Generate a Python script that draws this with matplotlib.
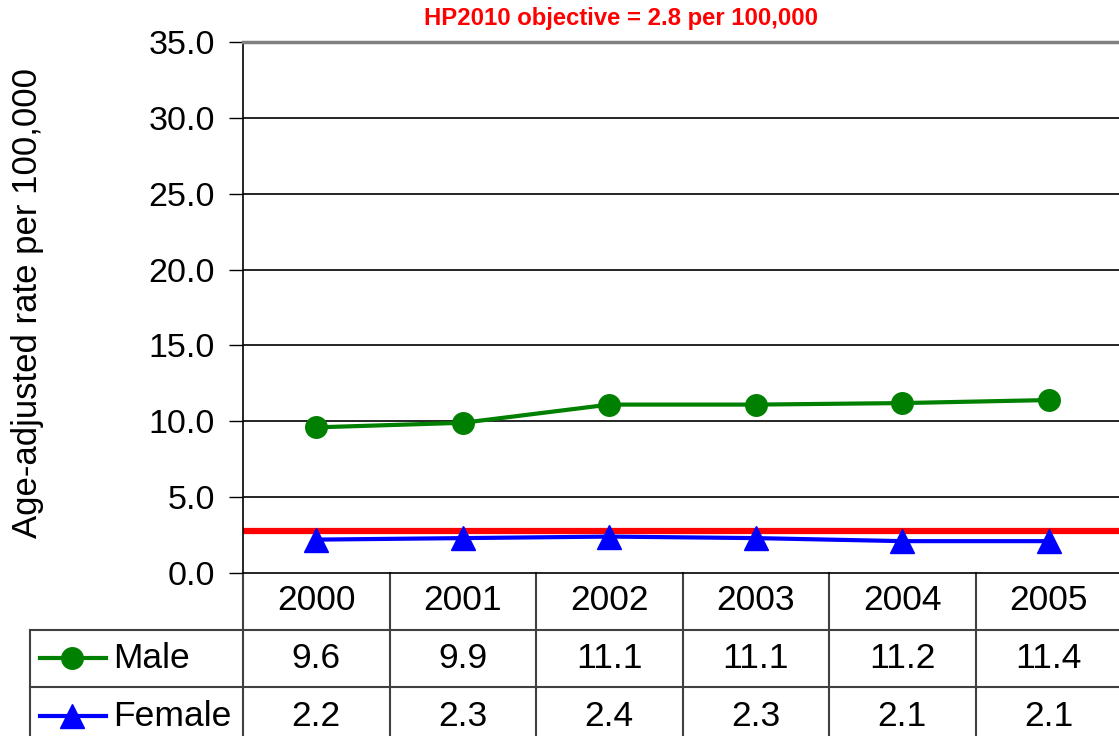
import matplotlib
matplotlib.use("Agg")
import matplotlib.pyplot as plt
from matplotlib.lines import Line2D
from matplotlib.transforms import blended_transform_factory

years = ["2000", "2001", "2002", "2003", "2004", "2005"]
male = [9.6, 9.9, 11.1, 11.1, 11.2, 11.4]
female = [2.2, 2.3, 2.4, 2.3, 2.1, 2.1]
objective = 2.8
title_text = "HP2010 objective = 2.8 per 100,000"
ylabel_text = "Age-adjusted rate per 100,000"
yticks = [0, 5, 10, 15, 20, 25, 30, 35]

plt.rcParams['font.family'] = ['Liberation Sans', 'DejaVu Sans']

W, H = 1119, 736
fig = plt.figure(figsize=(W / 100, H / 100), dpi=100)
ax_left, ax_bottom, ax_top = 243, 573, 42
cat_w = 146.5
ax_right = ax_left + cat_w * len(years)
ax = fig.add_axes([ax_left / W, (H - ax_bottom) / H, (ax_right - ax_left) / W, (ax_bottom - ax_top) / H])

x = list(range(len(years)))
ax.set_xlim(-0.5, len(years) - 0.5)
ax.set_ylim(0, 35)
ax.set_yticks(yticks)
ax.set_yticklabels([f"{v:.1f}" for v in yticks], fontsize=24.5)
ax.tick_params(axis='y', length=10, width=1, pad=10, color='black')
ax.set_xticks([])
for y in yticks[1:-1]:
    ax.axhline(y, color='black', lw=1.2, zorder=1)
ax.spines['top'].set_color('#808080')
ax.spines['top'].set_linewidth(2.5)
ax.spines['right'].set_visible(False)
ax.spines['left'].set_linewidth(1.2)
ax.spines['bottom'].set_linewidth(1.2)

ax.axhline(objective, color='#ff0000', lw=4.5, zorder=2)
ax.plot(x, male, color='#008000', lw=3, marker='o', markersize=15.5, zorder=3, clip_on=False)
ax.plot(x, female, color='#0000ff', lw=3, marker='^', markersize=17, zorder=3, clip_on=False)

ax.set_ylabel(ylabel_text, fontsize=25)
ax.yaxis.set_label_coords(-(ax_left - 44) / (ax_right - ax_left), 0.5 + 5 / (ax_bottom - ax_top))

fig.text(621 / W, 1 - 19 / H, title_text, color='#ff0000', fontsize=17.2,
         fontweight='bold', ha='center', va='center')

# table
tr = blended_transform_factory(ax.transData, ax.transAxes)
def ay(px):
    return (ax_bottom - px) / (ax_bottom - ax_top)

row_lines = [630, 687]
left_col_x = -0.5 - (ax_left - 30) / cat_w
line_kw = dict(color='#404040', lw=1.5, clip_on=False, transform=tr)
for ry in row_lines:
    ax.add_line(Line2D([left_col_x, len(years) - 0.5], [ay(ry), ay(ry)], **line_kw))
for k in range(len(years) + 1):
    xv = k - 0.5
    ax.add_line(Line2D([xv, xv], [ay(573), ay(745)], **line_kw))
ax.add_line(Line2D([left_col_x, left_col_x], [ay(630), ay(745)], **line_kw))

row_centers = [601, 658, 716]
fs_tab = 25.5
for i, yr in enumerate(years):
    ax.text(i, ay(row_centers[0]), yr, transform=tr, ha='center', va='center', fontsize=fs_tab)
    ax.text(i, ay(row_centers[1]), f"{male[i]:.1f}", transform=tr, ha='center', va='center', fontsize=fs_tab)
    ax.text(i, ay(row_centers[2]), f"{female[i]:.1f}", transform=tr, ha='center', va='center', fontsize=fs_tab)

# legend keys in left column
for label, color, mk, ms, ry in [("Male", '#008000', 'o', 15.5, row_centers[1]),
                                 ("Female", '#0000ff', '^', 17, row_centers[2])]:
    yf = 1 - ry / H
    fig.add_artist(Line2D([40 / W, 106 / W], [yf, yf], color=color, lw=3))
    fig.add_artist(Line2D([72 / W], [yf], color=color, marker=mk, markersize=ms, lw=0))
    fig.text(113 / W, yf, label, fontsize=fs_tab, ha='left', va='center')

fig.savefig("out.png", dpi=100)
